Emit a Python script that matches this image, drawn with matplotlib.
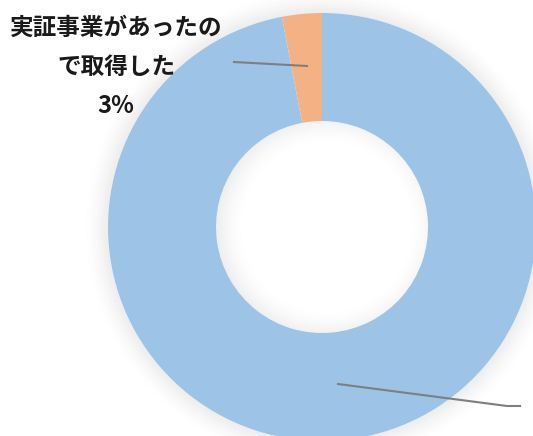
import matplotlib
matplotlib.use("Agg")
import matplotlib.pyplot as plt
from matplotlib.patches import Wedge, Circle
import numpy as np

plt.rcParams['font.family'] = ['Noto Sans CJK JP', 'DejaVu Sans']

# data
labels = ["実証事業があったの\nで取得した", ""]
values = [3, 97]
colors = ["#F4B183", "#9DC3E6"]

W, H = 533, 436
fig = plt.figure(figsize=(W / 100, H / 100), dpi=100)
ax = fig.add_axes([0, 0, 1, 1])

cx, cy = 322, H - 227
R = 214
r = 106

# soft shadow outside the ring
for i in range(24):
    a = 0.06 * (1 - i / 24) ** 1.5
    ax.add_patch(Wedge((cx, cy), R + i + 1, 0, 360, width=1.2,
                       color='black', alpha=a, lw=0))

ax.pie(values, colors=colors, startangle=90, counterclock=True,
       radius=R, center=(cx, cy),
       wedgeprops=dict(width=R - r, linewidth=0), frame=True)
ax.set_xlim(0, W)
ax.set_ylim(0, H)
ax.set_aspect('equal')
ax.axis('off')

# inner shadow in the hole
hole = Circle((cx, cy), r, transform=ax.transData)
for i in range(28):
    a = 0.06 * (1 - i / 28) ** 1.5
    w = ax.add_patch(Wedge((cx + 5, cy), r + 6 - i, 0, 360, width=1.2,
                           color='black', alpha=a, lw=0))
    w.set_clip_path(hole)

# labels and leader lines
pct = values[0] / sum(values) * 100
ax.text(116, H - 67, labels[0] + "\n%d%%" % round(pct), ha='center', va='center',
        fontsize=17, fontweight='bold', linespacing=1.8, color='#1a1a1a')
ax.plot([307, 234], [H - 66, H - 62], color='#7f7f7f', lw=1.5)
ax.plot([338, 507, 520], [H - 384, H - 406, H - 406], color='#7f7f7f', lw=1.5)

fig.savefig("out.png", dpi=100)
